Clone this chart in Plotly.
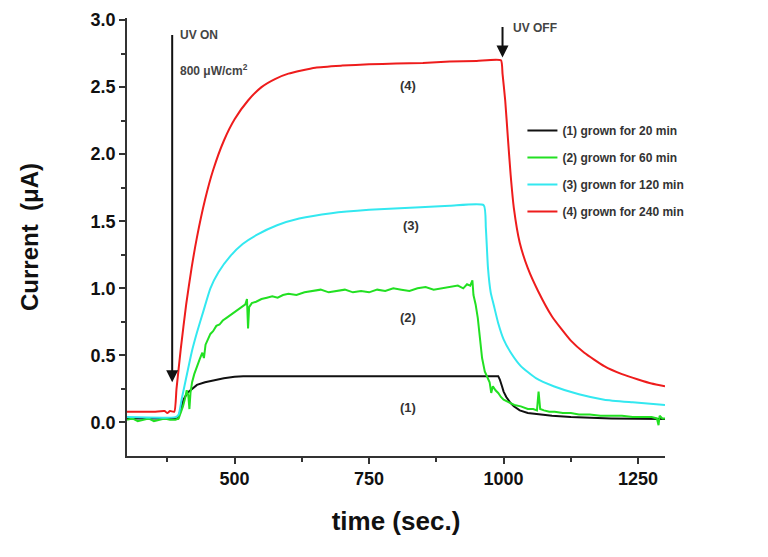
import plotly.graph_objects as go

# ---- data ----
t_black = [300, 395, 400, 405, 412, 420, 430, 445, 460, 480, 500, 516, 990, 993, 997, 1000, 1005, 1012,
           1019, 1030, 1045, 1063, 1090, 1125, 1200, 1300]
i_black = [0.03, 0.03, 0.10, 0.17, 0.22, 0.25, 0.28, 0.30, 0.315, 0.33, 0.34, 0.345, 0.345, 0.32, 0.27, 0.23,
           0.19, 0.15, 0.12, 0.09, 0.07, 0.06, 0.05, 0.04, 0.03, 0.025]

t_green = [300, 310, 320, 330, 340, 350, 360, 370, 380, 390, 396, 400, 404, 408, 411, 414, 416, 418, 421, 425,
           430, 435, 440, 443, 446, 450, 455, 460, 466, 472, 478, 485, 492, 500, 508, 515, 520, 523, 525, 527,
           532, 540, 550, 560, 570, 580, 590, 600, 615, 630, 645, 660, 675, 690, 705, 720, 735, 750, 765, 780,
           795, 810, 825, 840, 855, 870, 885, 900, 915, 925, 932, 938, 942, 944, 948, 952, 956, 960, 965, 970,
           974, 977, 980, 985, 990, 995, 1000, 1010, 1020, 1032, 1045, 1055, 1062, 1065, 1068, 1075, 1085, 1095,
           1110, 1125, 1140, 1160, 1180, 1200, 1220, 1240, 1260, 1275, 1285, 1288, 1290, 1295, 1300]
i_green = [0.02, 0.03, 0.01, 0.02, 0.03, 0.01, 0.02, 0.03, 0.02, 0.02, 0.03, 0.07, 0.12, 0.18, 0.24, 0.20,
           0.10, 0.22, 0.30, 0.36, 0.42, 0.47, 0.52, 0.48, 0.58, 0.62, 0.66, 0.68, 0.72, 0.73, 0.76, 0.78, 0.80,
           0.82, 0.84, 0.86, 0.88, 0.92, 0.70, 0.86, 0.89, 0.90, 0.92, 0.93, 0.94, 0.93, 0.95, 0.96, 0.95, 0.97,
           0.98, 0.99, 0.97, 0.98, 0.99, 0.97, 0.98, 0.97, 0.99, 0.98, 1.00, 0.99, 0.98, 1.00, 1.01, 0.99, 1.00,
           1.01, 1.02, 1.00, 1.03, 1.02, 1.06, 0.95, 0.88, 0.78, 0.60, 0.48, 0.38, 0.33, 0.30, 0.22, 0.27, 0.24,
           0.22, 0.19, 0.17, 0.15, 0.13, 0.12, 0.10, 0.10, 0.09, 0.23, 0.10, 0.09, 0.08, 0.08, 0.07, 0.07, 0.06,
           0.06, 0.05, 0.05, 0.05, 0.04, 0.04, 0.04, 0.03, -0.02, 0.05, 0.03, 0.03]

t_cyan = [300, 390, 396, 402, 412, 420, 430, 442, 455, 470, 492, 515, 542, 579, 620, 680, 750, 845, 900, 963,
          967, 971, 976, 982, 990, 1000, 1015, 1032, 1060, 1093, 1140, 1187, 1240, 1300]
i_cyan = [0.04, 0.04, 0.06, 0.18, 0.37, 0.52, 0.67, 0.83, 1.00, 1.12, 1.24, 1.33, 1.40, 1.47, 1.52, 1.56,
          1.585, 1.605, 1.615, 1.62, 1.45, 1.15, 0.97, 0.87, 0.74, 0.62, 0.51, 0.42, 0.33, 0.27, 0.21, 0.17,
          0.15, 0.13]

t_red = [300, 350, 370, 375, 380, 388, 392, 400, 410, 420, 430, 445, 460, 480, 500, 525, 550, 575, 600, 650,
         700, 750, 800, 850, 900, 950, 995, 998, 1003, 1008, 1013, 1019, 1030, 1045, 1064, 1090, 1125, 1150,
         1187, 1220, 1250, 1275, 1300]
i_red = [0.08, 0.08, 0.085, 0.07, 0.085, 0.08, 0.25, 0.55, 0.88, 1.15, 1.38, 1.66, 1.88, 2.10, 2.26, 2.40,
         2.50, 2.56, 2.60, 2.645, 2.66, 2.67, 2.675, 2.68, 2.69, 2.695, 2.70, 2.60, 2.40, 2.12, 1.85, 1.60,
         1.34, 1.15, 0.98, 0.79, 0.61, 0.52, 0.42, 0.36, 0.32, 0.29, 0.27]

series_names = ["(1) grown for 20 min", "(2) grown for 60 min", "(3) grown for 120 min", "(4) grown for 240 min"]
series_colors = ["#111111", "#22e022", "#33e8f0", "#ee1c1c"]
series_shapes = ["linear", "linear", "spline", "spline"]
curve_labels = ["(1)", "(2)", "(3)", "(4)"]
label_t = [823, 823, 827, 823]
label_i = [0.11, 0.78, 1.47, 2.51]

fig = go.Figure()
for k, (tt, ii) in enumerate([(t_black, i_black), (t_green, i_green), (t_cyan, i_cyan), (t_red, i_red)]):
    fig.add_trace(go.Scatter(x=tt, y=ii, mode="lines", name=series_names[k],
                             legendgroup=str(k),
                             line=dict(color=series_colors[k], width=2, shape=series_shapes[k], smoothing=0.5)))

for k in range(4):
    fig.add_annotation(x=label_t[k], y=label_i[k], text="<b>%s</b>" % curve_labels[k], showarrow=False,
                       font=dict(family="Liberation Sans, Arial", size=13, color="#333333"))

# UV ON arrow
fig.add_annotation(x=384, y=0.30, ax=384, ay=2.9, axref="x", ayref="y", xref="x", yref="y", text="",
                   showarrow=True, arrowhead=2, arrowsize=1.2, arrowwidth=2, arrowcolor="#111111")
fig.add_annotation(x=395, y=2.89, text="<b>UV ON</b>", showarrow=False, xanchor="left",
                   font=dict(family="Liberation Sans, Arial", size=12, color="#444444"))
fig.add_annotation(x=395, y=2.63, text="<b>800 μW/cm<sup>2</sup></b>", showarrow=False, xanchor="left",
                   font=dict(family="Liberation Sans, Arial", size=12, color="#444444"))
# UV OFF arrow
fig.add_annotation(x=998, y=2.72, ax=998, ay=2.96, axref="x", ayref="y", xref="x", yref="y", text="",
                   showarrow=True, arrowhead=2, arrowsize=1.2, arrowwidth=2, arrowcolor="#111111")
fig.add_annotation(x=1013, y=2.94, text="<b>UV OFF</b>", showarrow=False, xanchor="left",
                   font=dict(family="Liberation Sans, Arial", size=12, color="#444444"))

axis_font = dict(family="Liberation Sans, Arial", size=18, color="#111111", weight="bold")
fig.update_layout(
    width=760, height=549,
    margin=dict(l=119, r=103, t=10, b=101, autoexpand=False),
    plot_bgcolor="white", paper_bgcolor="white",
    showlegend=True,
    legend=dict(x=0.735, y=0.776, xanchor="left", yanchor="top", bgcolor="rgba(0,0,0,0)",
                tracegroupgap=8, traceorder="grouped",
                font=dict(family="Liberation Sans, Arial", size=12, color="#333333", weight="bold")),
    xaxis=dict(range=[300, 1300], tickvals=[500, 750, 1000, 1250], showgrid=False, zeroline=False,
               automargin=False,
               showline=True, linecolor="#333333", linewidth=1.5, ticks="outside", ticklen=6,
               tickcolor="#333333", tickwidth=1.5, tickfont=axis_font,
               minor=dict(tickvals=[375, 625, 875, 1125], ticks="outside", ticklen=4, tickcolor="#333333"),
               title=dict(text="time (sec.)", standoff=23,
                          font=dict(family="Liberation Sans, Arial", size=26, color="#111111", weight="bold"))),
    yaxis=dict(range=[-0.25, 3.015], tickvals=[0, 0.5, 1.0, 1.5, 2.0, 2.5, 3.0], tickformat=".1f",
               showgrid=False, zeroline=False, automargin=False,
               showline=True, linecolor="#333333", linewidth=1.5, ticks="outside", ticklen=6,
               tickcolor="#333333", tickwidth=1.5, tickfont=axis_font,
               minor=dict(tickvals=[0.25, 0.75, 1.25, 1.75, 2.25, 2.75], ticks="outside", ticklen=4,
                          tickcolor="#333333"),
               title=dict(text="Current  (μA)", standoff=45,
                          font=dict(family="Liberation Sans, Arial", size=24, color="#111111", weight="bold"))),
)

fig.write_html("out.html")
